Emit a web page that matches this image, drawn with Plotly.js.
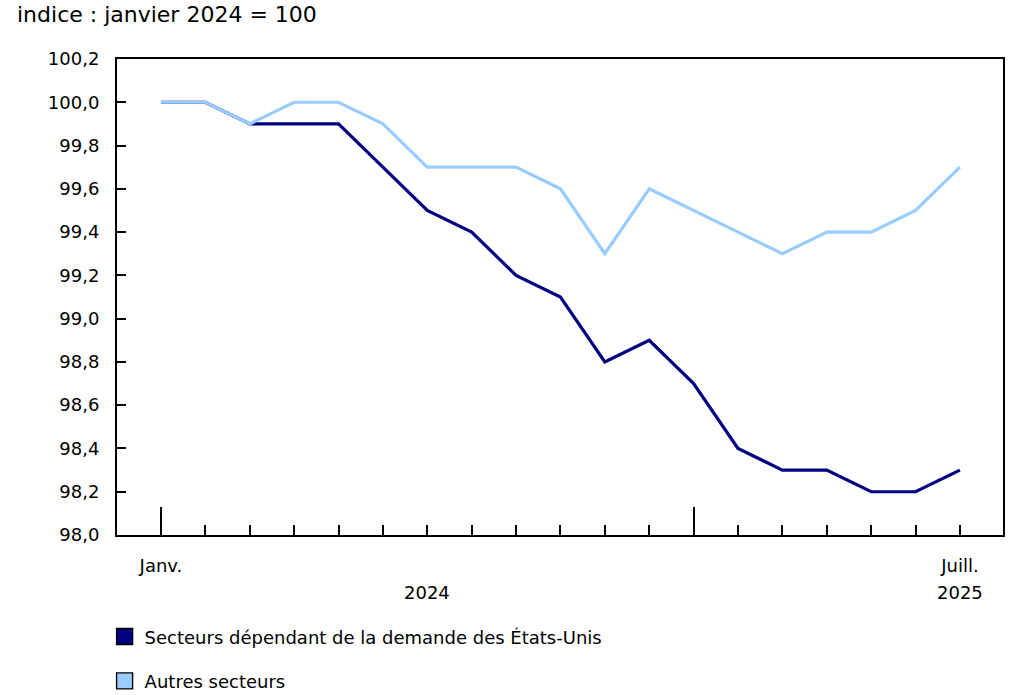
<!DOCTYPE html>
<html>
<head>
<meta charset="utf-8">
<script src="https://cdn.plot.ly/plotly-3.0.1.min.js"></script>
<style>
  html, body { margin: 0; padding: 0; background: #fff; }
  #chart { width: 1036px; height: 695px; }
</style>
</head>
<body>
<div id="chart"></div>
<script>
// months from janvier 2024 to juillet 2025 (index 0..18)
const months = [0, 1, 2, 3, 4, 5, 6, 7, 8, 9, 10, 11, 12, 13, 14, 15, 16, 17, 18];
const monthLabels = ['Janv.', '', '', '', '', '', '', '', '', '', '', '', '', '', '', '', '', '', 'Juill.'];
const yearStarts = [0, 12];
const yearLabels = ['2024', '2025'];
const yearLabelPos = [6, 18];

// index : janvier 2024 = 100
const usDependent = [100.0, 100.0, 99.9, 99.9, 99.9, 99.7, 99.5, 99.4, 99.2, 99.1, 98.8, 98.9, 98.7, 98.4, 98.3, 98.3, 98.2, 98.2, 98.3];
const otherSectors = [100.0, 100.0, 99.9, 100.0, 100.0, 99.9, 99.7, 99.7, 99.7, 99.6, 99.3, 99.6, 99.5, 99.4, 99.3, 99.4, 99.4, 99.5, 99.7];

const seriesNames = ['Secteurs dépendant de la demande des États-Unis', 'Autres secteurs'];
const seriesColors = ['#000080', '#99ccff'];

const font = 'DejaVu Sans, Verdana, sans-serif';
const xRange = [-0.99, 18.97];

const traces = [
  {x: months, y: usDependent, mode: 'lines', name: seriesNames[0], showlegend: false,
   line: {color: seriesColors[0], width: 3.2}, hoverinfo: 'skip'},
  {x: months, y: otherSectors, mode: 'lines', name: seriesNames[1], showlegend: false,
   line: {color: seriesColors[1], width: 3.2}, hoverinfo: 'skip'}
];

// legend entries drawn as boxes
seriesNames.forEach(function(name, i) {
  traces.push({
    x: [null], y: [null], xaxis: 'x2', mode: 'markers', name: name,
    legendgroup: 'g' + i,
    marker: {symbol: 'square', size: 16, color: seriesColors[i], line: {color: '#000', width: 1.4}}
  });
});

const layout = {
  width: 1036,
  height: 695,
  margin: {l: 117, r: 33, t: 59, b: 160, autoexpand: false},
  paper_bgcolor: '#fff',
  plot_bgcolor: '#fff',
  separators: ', ',
  font: {family: font, size: 18, color: '#000'},
  title: {
    text: 'indice : janvier 2024 = 100',
    font: {family: font, size: 22, color: '#000'},
    xref: 'container', x: 17 / 1036, xanchor: 'left',
    yref: 'container', y: 1 - 14 / 695, yanchor: 'middle'
  },
  xaxis: {
    range: xRange,
    tickmode: 'array',
    tickvals: months,
    ticktext: monthLabels,
    ticks: 'inside',
    ticklen: 10,
    tickwidth: 2,
    tickcolor: '#000',
    ticklabelstandoff: 13,
    showline: true, linecolor: '#000', linewidth: 2, mirror: true,
    showgrid: false, zeroline: false, fixedrange: true
  },
  xaxis2: {
    overlaying: 'x',
    anchor: 'y',
    side: 'bottom',
    range: xRange,
    tickmode: 'array',
    tickvals: yearStarts,
    ticks: 'inside',
    ticklen: 28,
    tickwidth: 2,
    tickcolor: '#000',
    showticklabels: false,
    showline: false, showgrid: false, zeroline: false, fixedrange: true
  },
  yaxis: {
    range: [98.0, 100.2],
    dtick: 0.2,
    tick0: 98,
    tickformat: '.1f',
    ticks: 'inside',
    ticklen: 9,
    tickwidth: 2,
    tickcolor: '#000',
    ticklabelstandoff: 12,
    showline: true, linecolor: '#000', linewidth: 2, mirror: true,
    showgrid: false, zeroline: false, fixedrange: true
  },
  annotations: yearLabels.map(function(t, i) {
    return {text: t, x: yearLabelPos[i], xref: 'x', y: (535 - 592) / 476, yref: 'paper',
            showarrow: false, xanchor: 'center', yanchor: 'middle',
            font: {family: font, size: 18, color: '#000'}};
  }),
  showlegend: true,
  legend: {
    x: -0.014, xanchor: 'left',
    y: -0.175, yanchor: 'top',
    traceorder: 'grouped',
    tracegroupgap: 18,
    font: {family: font, size: 18, color: '#000'},
    bgcolor: 'rgba(0,0,0,0)'
  }
};

Plotly.newPlot('chart', traces, layout, {displayModeBar: false, staticPlot: true});
</script>
</body>
</html>
